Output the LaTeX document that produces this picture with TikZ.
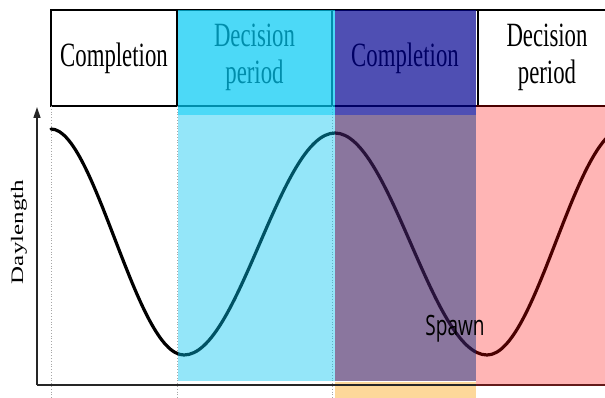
\documentclass[tikz,border=0pt]{standalone}
\usepackage{fontspec}
\setmainfont{Liberation Serif}
\newfontfamily\spawnfont{Open Sans}
\usepackage{graphicx}
\usetikzlibrary{arrows.meta,positioning}
\definecolor{hdcyan}{RGB}{0,201,244}
\definecolor{plcyan}{RGB}{0,196,240}
\definecolor{hdblue}{RGB}{0,0,146}
\definecolor{plpurple}{RGB}{65,32,97}
\definecolor{stripfill}{RGB}{253,216,154}
\newcommand{\squeeze}[1]{\scalebox{0.67}[1]{#1}}
\tikzset{headbox/.style={draw,line width=1.3pt,fill=white,minimum height=96pt,inner sep=0pt,outer sep=0pt,font=\fontsize{34}{37}\selectfont},
 guide/.style={draw=gray!70,dotted,line width=0.8pt},
 axis/.style={line width=1.5pt,draw=black!85},
 wave/.style={line width=3.2pt,line cap=round},
 veil/.style={fill=#1}}

\begin{document}
\begin{tikzpicture}[x=1pt,y=-1pt]
\useasboundingbox (0,0) rectangle (605,398);
\clip (0,0) rectangle (605,398);
\fill[stripfill] (335,382) rectangle (476,398);

\node[headbox,minimum width=126pt] (b1) at (114,58) {\squeeze{Completion}};
\node[headbox,minimum width=155pt,right=0pt of b1] (b2) {\squeeze{\begin{tabular}{@{}c@{}}Decision\\period\end{tabular}}};
\node[headbox,minimum width=146pt,right=0pt of b2] (b3) {\squeeze{Completion}};
\node[headbox,minimum width=138pt,right=0pt of b3] (b4) {\squeeze{\begin{tabular}{@{}c@{}}Decision\\period\end{tabular}}};

\coordinate (base) at (0,398);
\coordinate (o) at (37,385);
\coordinate (ytop) at (37,107);
\coordinate (xend) at (605,385);
\draw[guide] (b1.south west) -- (b1.south west |- base);
\draw[guide] (b2.south west) -- (b2.south west |- base);
\draw[guide] (b3.south west) -- (b3.south west |- base);
\draw[axis,-{Triangle[length=11pt,width=7pt]}] (o) -- (ytop);
\draw[axis] (o) -- (xend);

% daylength over the year
\coordinate (p0) at (51,129);
\coordinate (t1) at (184,355);
\coordinate (p1) at (335,133);
\coordinate (t2) at (487,355);
\coordinate (p2) at (625,128);
\draw[wave] (p0) .. controls +(44,0) and +(-48,0) .. (t1)
 .. controls +(55,0) and +(-55,0) .. (p1)
 .. controls +(55,0) and +(-55,0) .. (t2)
 .. controls +(50,0) and +(-50,0) .. (p2);

% coloured bands
\fill[veil=hdcyan,fill opacity=0.7] (178,10) rectangle (335,115);
\fill[veil=hdblue,fill opacity=0.69] (335,10) rectangle (476,115);
\fill[veil=plcyan,fill opacity=0.42] (178,115) rectangle (335,381);
\fill[veil=plpurple,fill opacity=0.615] (335,115) rectangle (476,381);
\fill[veil=red,fill opacity=0.29] (476,105) rectangle (605,386);

\node[font=\spawnfont\fontsize{28}{30}\selectfont,anchor=base,inner sep=0pt] (spawn) at (455,335) {\scalebox{0.68}[1]{Spawn}};
\node[rotate=90,font=\fontsize{25}{28}\selectfont,inner sep=0pt] (ylab) at (19,232) {\scalebox{1}[0.7]{Daylength}};
\end{tikzpicture}
\end{document}
